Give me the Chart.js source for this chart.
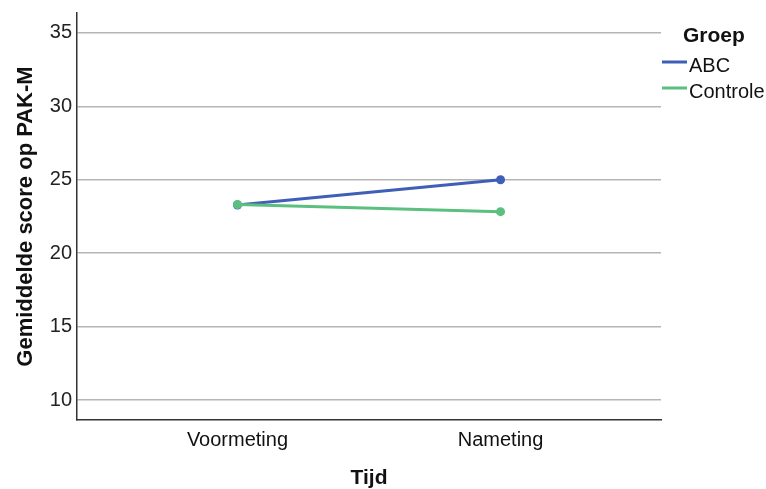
<!DOCTYPE html>
<html>
<head>
<meta charset="utf-8">
<script src="https://cdn.jsdelivr.net/npm/chart.js@4/dist/chart.umd.min.js"></script>
<style>
  html, body { margin: 0; padding: 0; background: #fff; }
  #wrap { width: 766px; height: 489px; }
</style>
</head>
<body>
<div id="wrap"><canvas id="chart" width="766" height="489"></canvas></div>
<script>
// Data
const categories = ['Voormeting', 'Nameting'];
const groups = ['ABC', 'Controle'];
const abcValues = [23.28, 25.0];
const controleValues = [23.32, 22.83];
const yTicks = [10, 15, 20, 25, 30, 35];

const colors = ['#3f5fb6', '#5bbf80'];
const FONT = '"Liberation Sans", Arial, sans-serif';

function toPoints(values) {
  return values.map((v, i) => ({ x: i, y: v }));
}

// simple legend drawn to the right of the plot
const groepLegend = {
  id: 'groepLegend',
  afterDraw(chart) {
    const ctx = chart.ctx;
    ctx.save();
    ctx.fillStyle = '#111';
    ctx.textBaseline = 'alphabetic';
    ctx.font = 'bold 21px ' + FONT;
    ctx.fillText('Groep', 683, 42);
    ctx.font = '20px ' + FONT;
    groups.forEach((g, i) => {
      const y = 62 + i * 26;
      ctx.strokeStyle = colors[i];
      ctx.lineWidth = 3;
      ctx.beginPath();
      ctx.moveTo(662, y);
      ctx.lineTo(687, y);
      ctx.stroke();
      ctx.fillStyle = '#111';
      ctx.fillText(g, 689, y + 10);
    });
    ctx.restore();
  }
};

const ctx = document.getElementById('chart').getContext('2d');
new Chart(ctx, {
  type: 'line',
  data: {
    datasets: [
      {
        label: groups[0],
        data: toPoints(abcValues),
        borderColor: colors[0],
        backgroundColor: colors[0],
        borderWidth: 3,
        pointRadius: 4.5,
        pointBorderWidth: 0,
        order: 1
      },
      {
        label: groups[1],
        data: toPoints(controleValues),
        borderColor: colors[1],
        backgroundColor: colors[1],
        borderWidth: 3,
        pointRadius: 4.5,
        pointBorderWidth: 0,
        order: 0
      }
    ]
  },
  options: {
    responsive: false,
    animation: false,
    layout: { padding: { left: 0, top: 13, right: 105, bottom: 0 } },
    plugins: {
      legend: { display: false },
      tooltip: { enabled: false }
    },
    scales: {
      x: {
        type: 'linear',
        min: -0.61,
        max: 1.61,
        afterBuildTicks: (scale) => { scale.ticks = categories.map((c, i) => ({ value: i })); },
        afterFit: (scale) => { scale.height = 69; scale.paddingLeft = 0; scale.paddingRight = 0; },
        grid: { display: false, drawTicks: false },
        border: { display: true, color: '#333', width: 1.5 },
        ticks: {
          padding: 8,
          color: '#111',
          font: { family: FONT, size: 20 },
          callback: (v) => categories[v] ?? ''
        },
        title: {
          display: true,
          text: 'Tijd',
          color: '#111',
          padding: { top: 0, bottom: 0 },
          font: { family: FONT, size: 21, weight: 'bold', lineHeight: 1.0 }
        }
      },
      y: {
        min: 8.64,
        max: 36.36,
        afterBuildTicks: (scale) => { scale.ticks = yTicks.map(v => ({ value: v })); },
        afterFit: (scale) => { scale.width = 77; scale.paddingTop = 0; scale.paddingBottom = 0; },
        grid: { color: '#b5b5b5', lineWidth: 1.5, drawTicks: false },
        border: { display: true, color: '#333', width: 1.5 },
        ticks: {
          padding: 5,
          color: '#222',
          font: { family: FONT, size: 20 }
        },
        title: {
          display: true,
          text: 'Gemiddelde score op PAK-M',
          color: '#111',
          padding: { top: 13, bottom: 0 },
          font: { family: FONT, size: 22, weight: 'bold' }
        }
      }
    }
  },
  plugins: [groepLegend]
});
</script>
</body>
</html>
